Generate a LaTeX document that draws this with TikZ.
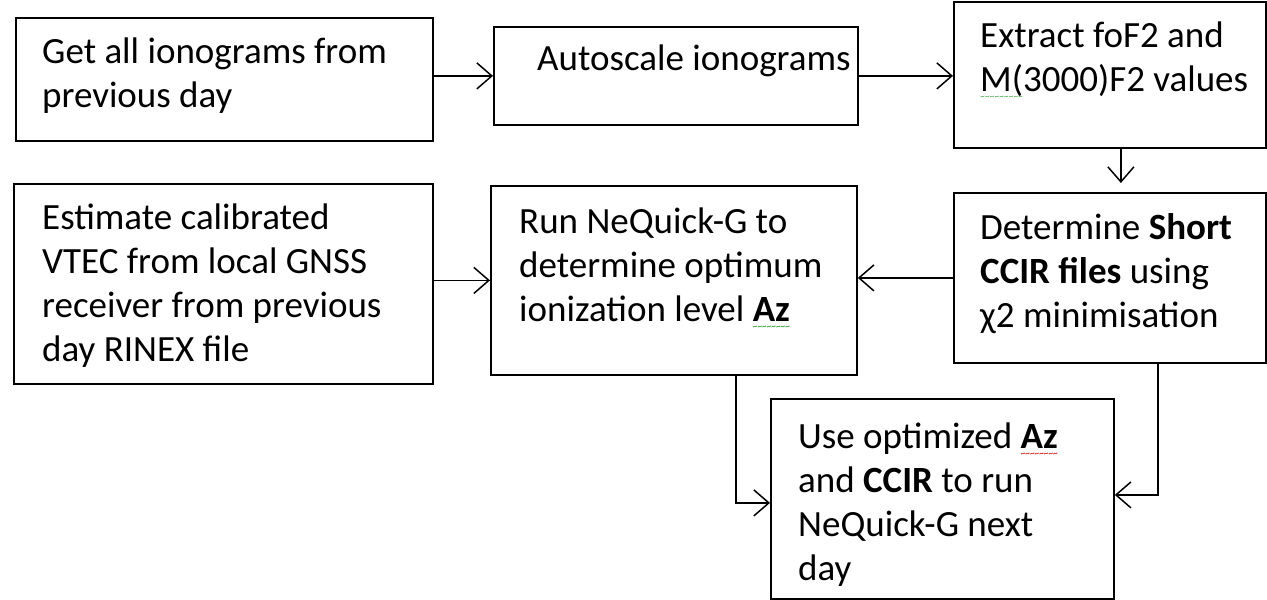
\documentclass[tikz,border=0pt]{standalone}
\usepackage{fontspec}
\setmainfont{Carlito}
\usepackage{xcolor}
\usetikzlibrary{arrows.meta,positioning,calc}
\definecolor{ink}{RGB}{0,0,0}
\definecolor{spellgreen}{RGB}{60,165,60}
\definecolor{spellred}{RGB}{225,40,40}
\newsavebox\spellbox
\newcommand\spellmark[2]{\sbox\spellbox{#2}\rlap{\textcolor{#1}{\raisebox{-8pt}[0pt][0pt]{\hbox to\wd\spellbox{\fontsize{9}{9}\selectfont\xleaders\hbox{\char"7E}\hfill}}}}\usebox\spellbox}
\newcommand\fl{\rule{0pt}{30pt}}

\begin{document}
\begin{tikzpicture}[x=1pt,y=-1pt,
  box/.style={draw=ink,line width=1.8pt,rectangle,anchor=north west,inner sep=0pt},
  txt/.style={anchor=north west,inner sep=0pt,align=left,font=\fontsize{37}{44}\selectfont},
  flow/.style={draw=ink,line width=1.5pt,-{Straight Barb[length=15pt,width=26pt,line width=1.5pt]}}]
 \useasboundingbox (0,0) rectangle (1267,600);
 % top row
 \node[box,minimum width=417,minimum height=123] (get) at (15,17) {};
 \node[box,minimum width=364,minimum height=98] (auto) at (493,26) {};
 \node[box,minimum width=312,minimum height=146] (extract) at (953,1) {};
 % middle row
 \node[box,minimum width=419,minimum height=200] (vtec) at (13,183) {};
 \node[box,minimum width=366,minimum height=189] (runaz) at (490,185) {};
 \node[box,minimum width=312,minimum height=170] (ccir) at (953,192) {};
 % bottom
 \node[box,minimum width=343,minimum height=200] (nextday) at (770,398) {};
 % texts
 \node[txt] (get-t) at ([shift={(27,16)}]get.north west) {\fl Get all ionograms from\\ previous day};
 \node[txt] (auto-t) at ([shift={(44,14)}]auto.north west) {\fl Autoscale ionograms};
 \node[txt] (extract-t) at ([shift={(27,16)}]extract.north west) {\fl Extract foF2 and\\ \spellmark{spellgreen}{M(}3000)F2 values};
 \node[txt] (vtec-t) at ([shift={(29,16)}]vtec.north west) {\fl Estimate calibrated\\ VTEC from local GNSS\\ receiver from previous\\ day RINEX file};
 \node[txt] (runaz-t) at ([shift={(29,18)}]runaz.north west) {\fl Run NeQuick-G to\\ determine optimum\\ ionization level \textbf{\spellmark{spellgreen}{Az}}};
 \node[txt] (ccir-t) at ([shift={(27,17)}]ccir.north west) {\fl Determine \textbf{Short}\\ \textbf{CCIR files} using\\ χ2 minimisation};
 \node[txt] (nextday-t) at ([shift={(28,20)}]nextday.north west) {\fl Use optimized \textbf{\spellmark{spellred}{Az}}\\ and \textbf{CCIR} to run\\ NeQuick-G next\\ day};
 % arrows
 \draw[flow] (get.east |- auto.west) -- (auto.west);
 \draw[flow] (auto.east) -- (auto.east -| extract.west);
 \draw[flow,shorten >=9pt] ([xshift=11pt]extract.south) -- ([xshift=11pt]ccir.north);
 \draw[flow] (vtec.east |- runaz.west) -- (runaz.west);
 \draw[flow] (ccir.west) -- (ccir.west -| runaz.east);
 \draw[flow] ([xshift=62pt]runaz.south) |- ([yshift=-4pt]nextday.west);
 \draw[flow] ([xshift=48pt]ccir.south) |- ([yshift=4pt]nextday.east);
\end{tikzpicture}
\end{document}
